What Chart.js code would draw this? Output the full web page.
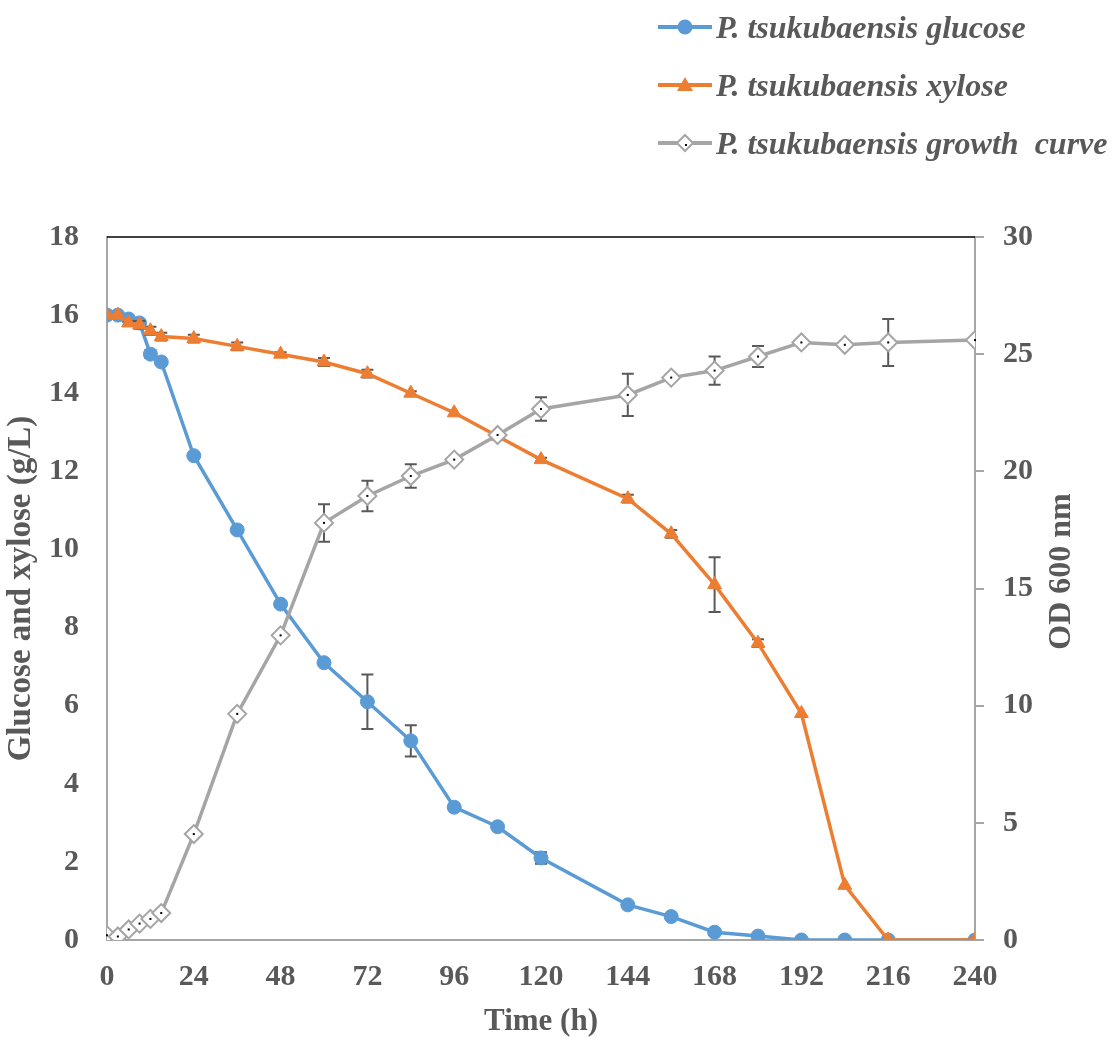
<!DOCTYPE html>
<html><head><meta charset="utf-8">
<script src="https://cdn.jsdelivr.net/npm/chart.js@4"></script>
<style>
html,body{margin:0;padding:0;background:#fff;}
#wrap{position:relative;width:1113px;height:1038px;overflow:hidden;}
#c{position:absolute;left:0;top:0;}
#legend{position:absolute;left:658px;top:-2px;font-family:"Liberation Serif","Times New Roman",serif;font-weight:bold;font-style:italic;font-size:32px;color:#595959;white-space:nowrap;}
.item{display:flex;align-items:center;height:58px;}
.item svg{margin-right:4px;flex:none;}
</style>
</head><body>
<div id="wrap">
<canvas id="c" width="1113" height="1038"></canvas>
<div id="legend"></div>
</div>
<script>
const times = [0,3,6,9,12,15,24,36,48,60,72,84,96,108,120,144,156,168,180,192,204,216,240];
const glucose = [16.0,16.0,15.9,15.8,15.0,14.8,12.4,10.5,8.6,7.1,6.1,5.1,3.4,2.9,2.1,0.9,0.6,0.2,0.1,0,0,0,0];
const glucoseErr = [0,0,0,0.05,0.1,0,0,0,0.05,0,0.7,0.4,0,0.05,0.15,0,0,0,0,0,0,0,0];
const xylose = [16.0,16.0,15.8,15.75,15.6,15.45,15.4,15.2,15.0,14.8,14.5,14.0,13.5,12.9,12.3,11.3,10.4,9.1,7.6,5.8,1.4,0,0];
const xyloseErr = [0,0,0.05,0.1,0.1,0.1,0.1,0.1,0.05,0.1,0.1,0.05,0,0,0.05,0.1,0.1,0.7,0.1,0,0,0,0];
const growth = [0.2,0.15,0.45,0.7,0.9,1.15,4.52,9.65,13.0,17.8,18.95,19.8,20.5,21.55,22.66,23.26,24.0,24.3,24.9,25.5,25.4,25.5,25.6];
const growthErr = [0,0,0,0,0,0,0,0,0,0.8,0.65,0.5,0,0,0.5,0.9,0.15,0.6,0.45,0,0,1.0,0];
const xTicks = [0,24,48,72,96,120,144,168,192,216,240];

const labels = ['P. tsukubaensis glucose','P. tsukubaensis xylose','P. tsukubaensis growth\u00a0 curve'];
const axisTitles = ['Time (h)','Glucose and xylose (g/L)','OD 600 nm'];
const colors = ['#5B9BD5','#ED7D31','#A5A5A5'];

const FONT = '"Liberation Serif","Times New Roman",serif';
const TXT = '#595959';

function pts(vals){ return times.map((t,i)=>({x:t,y:vals[i]})); }

const errorBars = {
  id:'errorBars',
  beforeDatasetDraw(chart, args){
    const ds = chart.data.datasets[args.index];
    if(!ds.errors) return;
    const meta = args.meta;
    const ys = chart.scales[meta.yAxisID];
    const ctx = chart.ctx;
    ctx.save();
    ctx.strokeStyle = '#595959';
    ctx.lineWidth = 2;
    meta.data.forEach((p,i)=>{
      const e = ds.errors[i];
      if(!e) return;
      const v = ds.data[i].y;
      const y1 = ys.getPixelForValue(v+e), y2 = ys.getPixelForValue(v-e);
      const x = p.x;
      ctx.beginPath();
      ctx.moveTo(x,y1); ctx.lineTo(x,y2);
      ctx.moveTo(x-6,y1); ctx.lineTo(x+6,y1);
      ctx.moveTo(x-6,y2); ctx.lineTo(x+6,y2);
      ctx.stroke();
    });
    ctx.restore();
  },
  afterDatasetDraw(chart, args){
    const ds = chart.data.datasets[args.index];
    if(!ds.dotted) return;
    const ctx = chart.ctx;
    ctx.save();
    ctx.fillStyle = '#000';
    args.meta.data.forEach(p=>{ ctx.fillRect(p.x-1, p.y-1, 2, 2); });
    ctx.restore();
  },
  afterDraw(chart){
    const a = chart.chartArea, ctx = chart.ctx;
    ctx.save();
    ctx.strokeStyle = '#000';
    ctx.lineWidth = 1.5;
    ctx.beginPath();
    ctx.moveTo(a.left, a.top); ctx.lineTo(a.right, a.top);
    ctx.stroke();
    // right axis title, reading bottom-to-top
    ctx.fillStyle = TXT;
    ctx.font = 'bold 32px ' + FONT;
    ctx.textAlign = 'center';
    ctx.textBaseline = 'middle';
    ctx.translate(a.right + 87, (a.top + a.bottom)/2 - 17);
    ctx.rotate(-Math.PI/2);
    ctx.fillText(axisTitles[2], 0, 0);
    ctx.restore();
  }
};

const tickFont = {family:FONT, size:30, weight:'bold'};

new Chart(document.getElementById('c'), {
  type:'line',
  data:{
    datasets:[
      {label:labels[0], data:pts(glucose), errors:glucoseErr, yAxisID:'y', order:2,
       borderColor:colors[0], backgroundColor:colors[0], borderWidth:3.5,
       pointStyle:'circle', pointRadius:7, pointBorderWidth:1, pointBackgroundColor:colors[0], pointBorderColor:colors[0]},
      {label:labels[1], data:pts(xylose), errors:xyloseErr, yAxisID:'y', order:1,
       borderColor:colors[1], backgroundColor:colors[1], borderWidth:3.5,
       pointStyle:'triangle', pointRadius:8, pointBorderWidth:1, pointBackgroundColor:colors[1], pointBorderColor:colors[1]},
      {label:labels[2], data:pts(growth), errors:growthErr, dotted:true, yAxisID:'y2', order:0,
       borderColor:colors[2], backgroundColor:'#fff', borderWidth:3.5,
       pointStyle:'rectRot', pointRadius:9, pointBorderWidth:2, pointBackgroundColor:'#fff', pointBorderColor:colors[2]}
    ]
  },
  options:{
    responsive:false, animation:false,
    layout:{padding:{top:237, left:0, right:0, bottom:0}},
    plugins:{legend:{display:false}, tooltip:{enabled:false}},
    scales:{
      x:{type:'linear', min:0, max:240,
         afterBuildTicks(s){ s.ticks = xTicks.map(v=>({value:v})); },
         afterFit(s){ s.height = 98; },
         ticks:{font:tickFont, color:TXT, padding:19.5},
         grid:{display:false, drawTicks:false},
         border:{display:true, color:'#A6A6A6', width:2},
         title:{display:true, text:axisTitles[0], font:{family:FONT, size:31, weight:'bold', lineHeight:1}, color:TXT, padding:{top:0, bottom:0.5}}},
      y:{position:'left', min:0, max:18,
         afterFit(s){ s.width = 107; },
         ticks:{stepSize:2, font:tickFont, color:TXT, padding:28},
         grid:{display:false, drawTicks:false},
         border:{display:true, color:'#A6A6A6', width:2},
         title:{display:true, text:axisTitles[1], font:{family:FONT, size:33, weight:'bold', lineHeight:1}, color:TXT, padding:{top:4.5, bottom:0}}},
      y2:{position:'right', min:0, max:30,
         afterFit(s){ s.width = 138; },
         ticks:{stepSize:5, font:tickFont, color:TXT, padding:19},
         grid:{display:true, drawOnChartArea:false, drawTicks:true, tickLength:9, color:'#A6A6A6', lineWidth:2},
         border:{display:true, color:'#A6A6A6', width:2},
         title:{display:false}}
    }
  },
  plugins:[errorBars]
});

// legend
const markers = [
  '<circle cx="27" cy="10" r="7.5" fill="#5B9BD5"/>',
  '<polygon points="27,2 35,16 19,16" fill="#ED7D31"/>',
  '<polygon points="27,2 35,10 27,18 19,10" fill="#fff" stroke="#A5A5A5" stroke-width="2"/><rect x="27" y="11" width="2" height="2" fill="#000"/>'
];
const leg = document.getElementById('legend');
labels.forEach((l,i)=>{
  const d = document.createElement('div');
  d.className='item';
  d.innerHTML = '<svg width="54" height="20" viewBox="0 0 54 20"><line x1="0" y1="10" x2="54" y2="10" stroke="'+colors[i]+'" stroke-width="4"/>'+markers[i]+'</svg>';
  const s = document.createElement('span');
  s.textContent = l;
  d.appendChild(s);
  leg.appendChild(d);
});
</script>
</body></html>
